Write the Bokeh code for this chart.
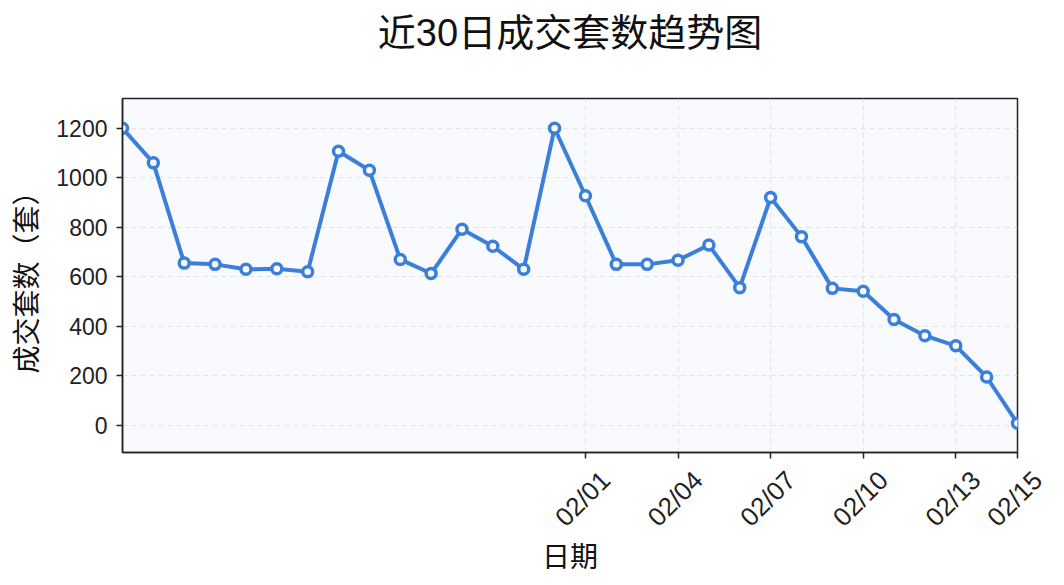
import pandas as pd
from bokeh.plotting import figure
from bokeh.models import FixedTicker, Range1d, ColumnDataSource
from bokeh.embed import file_html
from bokeh.resources import INLINE

# ---- data ----
dates = pd.date_range("2024-01-17", "2024-02-15", freq="D").strftime("%Y-%m-%d").tolist()
counts = [1200, 1060, 655, 650, 630, 632, 620, 1107, 1030, 670,
          613, 792, 723, 630, 1200, 927, 650, 650, 667, 728,
          556, 920, 762, 553, 541, 427, 362, 321, 195, 8]
x_tick_dates = ["2024-02-01", "2024-02-04", "2024-02-07", "2024-02-10", "2024-02-13", "2024-02-15"]
x_tick_labels = ["02/01", "02/04", "02/07", "02/10", "02/13", "02/15"]
y_ticks = [0, 200, 400, 600, 800, 1000, 1200]

title_text = "近30日成交套数趋势图"
x_label = "日期"
y_label = "成交套数（套）"

FONT = "'Liberation Sans', 'Noto Sans CJK SC', sans-serif"
LINE_COLOR = "#3b7fdb"
Y_MIN, Y_MAX = -110, 1320

xs = list(range(len(dates)))
src = ColumnDataSource(dict(x=xs, y=counts, date=dates))
tick_idx = [dates.index(d) for d in x_tick_dates]

p = figure(width=1048, height=585,
           output_backend="svg", toolbar_location=None,
           x_range=Range1d(xs[0], xs[-1]), y_range=Range1d(Y_MIN, Y_MAX),
           min_border_left=122, min_border_right=31, min_border_top=98, min_border_bottom=133)

# trailing empty line lifts the title away from the frame
p.title.text = title_text + "\n"
p.title.align = "center"
p.title.vertical_align = "bottom"
p.title.text_font = FONT
p.title.text_font_size = "38px"
p.title.text_line_height = 1.0
p.title.text_font_style = "normal"
p.title.text_color = "#111111"
p.title.standoff = 5

p.background_fill_color = "#f8fafd"
p.border_fill_color = "white"
p.outline_line_color = "#222222"
p.outline_line_width = 1.5

p.line("x", "y", source=src, line_color=LINE_COLOR, line_width=4)
p.scatter("x", "y", source=src, size=10, fill_color="white", line_color=LINE_COLOR, line_width=3.5)

p.xaxis.ticker = FixedTicker(ticks=tick_idx)
p.xaxis.major_label_overrides = {i: "\n\n" + t for i, t in zip(tick_idx, x_tick_labels)}
p.xaxis.major_label_orientation = 0.785398
p.yaxis.ticker = FixedTicker(ticks=y_ticks)

for ax in (p.xaxis[0], p.yaxis[0]):
    ax.axis_line_color = "#222222"
    ax.axis_line_width = 1.5
    ax.major_tick_line_color = "#222222"
    ax.major_tick_line_width = 1.5
    ax.major_tick_out = 6
    ax.major_tick_in = 0
    ax.minor_tick_line_color = None
    ax.major_label_text_font = FONT
    ax.major_label_text_font_size = "23px"
    ax.major_label_text_color = "#222222"
    ax.axis_label_text_font = FONT
    ax.axis_label_text_font_size = "28px"
    ax.axis_label_text_font_style = "normal"
    ax.axis_label_text_color = "#111111"

p.xaxis.major_label_text_font_size = "26px"
p.xaxis.major_label_text_line_height = 0.95
p.xaxis.axis_label = x_label
p.xaxis.major_label_standoff = -3
p.xaxis.axis_label_standoff = -24
p.yaxis.axis_label = y_label
p.yaxis.major_label_standoff = 9
p.yaxis.axis_label_standoff = 10

for g in (p.xgrid[0], p.ygrid[0]):
    g.grid_line_color = "#dddddd"
    g.grid_line_dash = "5 4"
    g.grid_line_width = 1
    g.grid_line_alpha = 0.8

open("out.html", "w").write(file_html(p, INLINE))
